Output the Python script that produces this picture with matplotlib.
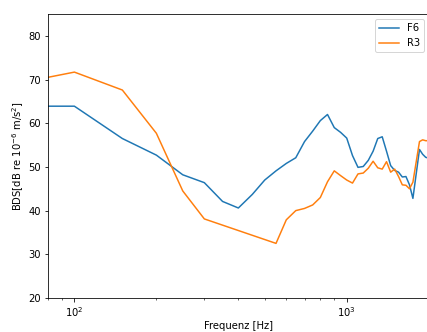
import matplotlib
matplotlib.use("Agg")
import matplotlib.pyplot as plt

# Frequenzen [Hz] und Pegel [dB]
f_F6 = [50, 100, 150, 200, 250, 300, 350, 400, 450, 500, 550, 600, 650, 700,
        750, 800, 850, 900, 950, 1000, 1050, 1100, 1150, 1200, 1250, 1300,
        1350, 1400, 1450, 1500, 1550, 1600, 1650, 1700, 1750, 1850, 1900,
        1950, 2000]
bds_F6 = [63.9, 63.9, 56.5, 52.7, 48.2, 46.4, 42.1, 40.6, 43.7, 47.0, 49.1,
          50.8, 52.1, 55.8, 58.2, 60.6, 62.0, 59.0, 57.9, 56.6, 52.6, 49.9,
          50.1, 51.5, 53.6, 56.5, 56.9, 53.6, 50.3, 49.2, 48.8, 47.7, 47.8,
          45.9, 42.8, 54.0, 52.9, 52.2, 52.0]

f_R3 = [50, 100, 150, 200, 250, 300, 550, 600, 650, 700, 750, 800, 850, 900,
        950, 1000, 1050, 1100, 1150, 1200, 1250, 1300, 1350, 1400, 1450,
        1500, 1550, 1600, 1650, 1700, 1750, 1850, 1900, 1950, 2000]
bds_R3 = [68.0, 71.7, 67.6, 57.7, 44.5, 38.1, 32.5, 37.9, 40.0, 40.5, 41.3,
          43.0, 46.6, 49.1, 48.0, 47.0, 46.3, 48.4, 48.6, 49.7, 51.3, 49.8,
          49.5, 51.2, 48.8, 49.5, 47.8, 45.9, 45.8, 45.0, 46.5, 55.8, 56.2,
          56.0, 56.0]

fig = plt.figure(figsize=(427 / 72, 332 / 72), dpi=72)
ax = fig.add_axes([48 / 427, 34 / 332, 380.7 / 427, 284 / 332])

ax.plot(f_F6, bds_F6, label="F6")
ax.plot(f_R3, bds_R3, label="R3")
ax.set_xscale("log")
ax.set_xlim(80, 2000)
ax.set_ylim(20, 85)
ax.set_xlabel("Frequenz [Hz]", labelpad=2)
ax.set_ylabel("BDS[dB re $10^{-6}$ m/s$^2$]", labelpad=2)
ax.legend(loc="upper right")

fig.savefig("out.png", dpi=72)
